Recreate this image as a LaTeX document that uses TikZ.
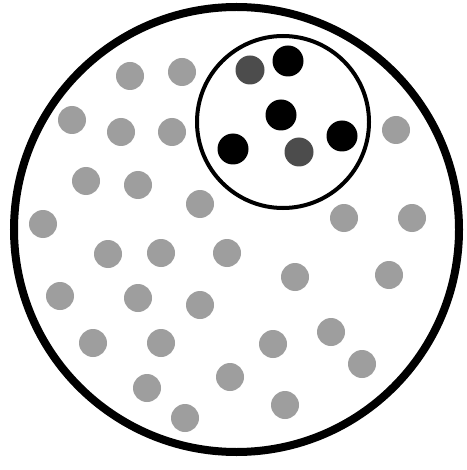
\documentclass[tikz,border=0pt]{standalone}
\begin{document}
\begin{tikzpicture}[x=1pt,y=-1pt,
  greydot/.style={fill=black!38},
  darkdot/.style={fill=black!70},
  blackdot/.style={fill=black}]
\useasboundingbox (0,0) rectangle (466,470);
% outer and inner circles
\draw[line width=8pt] (236.5,229.5) circle[radius=222.5pt];
\draw[line width=4pt] (283,122) circle[radius=86pt];
% grey dots
\foreach \px/\py in {130/76,182/72,72/120,121/132,172/132,86/181,138/185,200/204,
  43/224,108/254,161/253,227/253,60/296,138/298,200/305,93/343,161/343,147/388,
  185/418,230/377,295/277,389/275,273/344,331/332,362/364,285/405,396/130,
  344/218,412/218}
  \fill[greydot] (\px,\py) circle[radius=14pt];
% darker dots inside the small circle
\fill[darkdot] (250,70) circle[radius=14.5pt];
\fill[darkdot] (299,152) circle[radius=14.5pt];
% black dots
\foreach \px/\py in {288/61,281/115,342/136,233/149}
  \fill[blackdot] (\px,\py) circle[radius=15.5pt];
\end{tikzpicture}
\end{document}
